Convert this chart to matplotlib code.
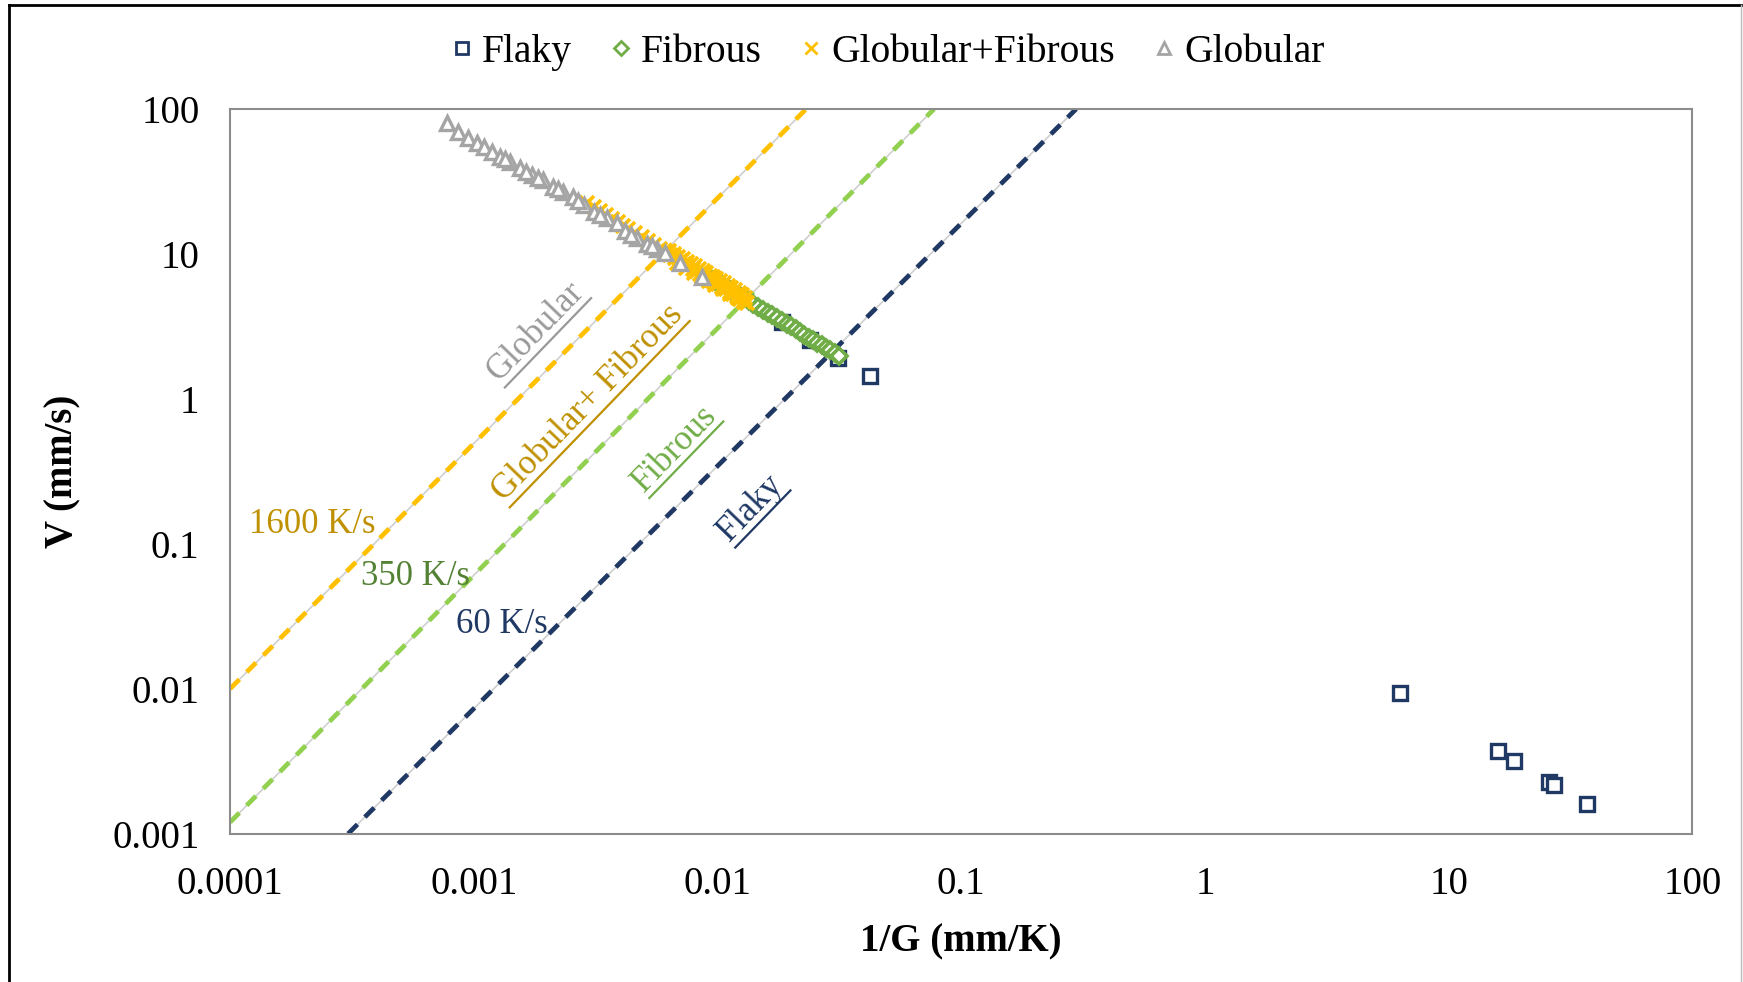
import matplotlib
matplotlib.use("Agg")
import matplotlib.pyplot as plt
from matplotlib.lines import Line2D
from matplotlib.transforms import IdentityTransform
import numpy as np

plt.rcParams["font.family"] = ["Liberation Serif", "DejaVu Serif"]

# ── 데이터 ──
x_ticks = [0.0001, 0.001, 0.01, 0.1, 1, 10, 100]
x_tick_labels = ["0.0001", "0.001", "0.01", "0.1", "1", "10", "100"]
y_ticks = [0.001, 0.01, 0.1, 1, 10, 100]
y_tick_labels = ["0.001", "0.01", "0.1", "1", "10", "100"]

flaky_x = [0.0183, 0.0240, 0.0313, 0.0423, 6.32, 16.0, 18.6, 25.7, 27.1, 36.9]
flaky_y = [3.37, 2.55, 1.91, 1.44, 0.0094, 0.0037, 0.00316, 0.00226, 0.00218, 0.00161]

fibrous_x = [0.0092, 0.0098, 0.0104, 0.0110, 0.0116, 0.0122, 0.0128, 0.0134,
             0.0140, 0.0147, 0.0154, 0.0161, 0.0168, 0.0176, 0.0184, 0.0192,
             0.0200, 0.0209, 0.0218, 0.0227, 0.0237, 0.0247, 0.0257, 0.0268,
             0.0279, 0.0290, 0.0302, 0.0316]
fibrous_y = [6.96, 6.53, 6.15, 5.80, 5.50, 5.22, 4.97, 4.75,
             4.54, 4.32, 4.12, 3.94, 3.77, 3.59, 3.44, 3.29,
             3.16, 3.02, 2.89, 2.77, 2.65, 2.54, 2.44, 2.34,
             2.25, 2.16, 2.07, 1.98]

glob_fib_x = [0.0029, 0.0031, 0.0033, 0.0035, 0.0037, 0.0039, 0.0041, 0.0043,
              0.0046, 0.0049, 0.0052, 0.0055, 0.0058, 0.0061, 0.0064, 0.0067,
              0.0070, 0.0073, 0.0076, 0.0079, 0.0082, 0.0085, 0.0088, 0.0091,
              0.0094, 0.0097, 0.0100, 0.0104, 0.0108, 0.0112, 0.0116, 0.0120,
              0.0124, 0.0128, 0.0132, 0.0063, 0.0066, 0.0069, 0.0072, 0.0075,
              0.0078, 0.0081, 0.0084, 0.0087, 0.0090, 0.0093, 0.0096, 0.0099,
              0.0102, 0.0106, 0.0110, 0.0114, 0.0118, 0.0122, 0.0126, 0.0130,
              0.0068, 0.0074, 0.0080, 0.0086, 0.0092, 0.0098, 0.0105, 0.0113,
              0.0121, 0.0129]
glob_fib_y = [22.5, 21.0, 19.7, 18.5, 17.4, 16.5, 15.7, 14.9,
              13.9, 13.0, 12.2, 11.5, 10.9, 10.3, 9.83, 9.37,
              8.95, 8.57, 8.21, 7.89, 7.59, 7.31, 7.05, 6.80,
              6.57, 6.36, 6.16, 5.92, 5.69, 5.47, 5.28, 5.09,
              4.92, 4.76, 4.61, 10.5, 10.0, 9.6, 9.2, 8.8,
              8.5, 8.2, 7.9, 7.6, 7.4, 7.1, 6.9, 6.7,
              6.5, 6.3, 6.0, 5.8, 5.6, 5.4, 5.2, 5.0,
              8.6, 8.0, 7.4, 6.9, 6.5, 6.1, 5.7, 5.3,
              4.98, 4.67]

globular_x = [0.000774, 0.000865, 0.000951, 0.00103, 0.00110, 0.00119, 0.00128,
              0.00141, 0.00155, 0.00173, 0.00193, 0.00212, 0.00233, 0.00256,
              0.00282, 0.00310, 0.00352, 0.00386, 0.00418, 0.00467, 0.00513,
              0.00564, 0.00610, 0.00703, 0.00863, 0.00134, 0.00164, 0.00183,
              0.00222, 0.00268, 0.00330, 0.00440, 0.00540]
globular_y = [79.6, 69.8, 62.8, 58.0, 55.0, 50.8, 46.9,
              43.3, 39.0, 35.1, 32.4, 29.1, 26.9, 24.8,
              21.8, 19.6, 17.6, 16.3, 14.3, 12.8, 11.8,
              10.9, 10.1, 8.63, 6.97, 45.0, 37.0, 33.6,
              28.0, 23.2, 18.6, 13.5, 11.3]

# 냉각속도 기준선 (양 끝점)
rate_labels = ["1600 K/s", "350 K/s", "60 K/s"]
rate_line_x = [[0.0001, 0.0231], [0.0001, 0.0773], [0.000305, 0.296]]
rate_line_y = [[0.0100, 100], [0.0012, 100], [0.001, 100]]

NAVY = "#1F3864"
GREEN = "#70AD47"
YELLOW = "#FFC000"
GREY = "#A5A5A5"

fig = plt.figure(figsize=(17.43, 9.82), dpi=100)
ax = fig.add_axes([0.132, 0.151, 0.839, 0.738])
ax.set_xscale("log")
ax.set_yscale("log")
ax.set_xlim(1e-4, 100)
ax.set_ylim(1e-3, 100)

# ── 기준선: 가는 회색 실선 위에 색 점선 ──
line_colors = [YELLOW, "#92D050", NAVY]
for lx, ly, c in zip(rate_line_x, rate_line_y, line_colors):
    ax.plot(lx, ly, color="#CFCFCF", lw=1.2, zorder=2)
    ax.plot(lx, ly, color=c, lw=3.4, ls=(0, (2.8, 2.2)), zorder=2.1)

# ── 산점도 ──
ax.plot(flaky_x, flaky_y, ls="none", marker="s", ms=10.5, mfc="white",
        mec=NAVY, mew=2.4, zorder=3)
ax.plot(fibrous_x, fibrous_y, ls="none", marker="D", ms=8.5, mfc="white",
        mec=GREEN, mew=2.6, zorder=4)
ax.plot(glob_fib_x, glob_fib_y, ls="none", marker="x", ms=10, mec=YELLOW,
        mew=2.6, zorder=5)
ax.plot(globular_x, globular_y, ls="none", marker="^", ms=10, mfc="white",
        mec=GREY, mew=2.4, zorder=6)

# 축 스타일
ax.minorticks_off()
ax.set_xticks(x_ticks)
ax.set_xticklabels(x_tick_labels)
ax.set_yticks(y_ticks)
ax.set_yticklabels(y_tick_labels)
ax.tick_params(axis="both", length=0, labelsize=28)
ax.tick_params(axis="x", pad=23)
ax.tick_params(axis="y", pad=22)
for sp in ax.spines.values():
    sp.set_color("#8C8C8C")
    sp.set_linewidth(1.5)

ax.set_xlabel("1/G (mm/K)", fontsize=28, fontweight="bold", labelpad=15)
ax.set_ylabel("V (mm/s)", fontsize=28, fontweight="bold", labelpad=22)

# 냉각속도 라벨
rate_text_pos = [(0.000120, 0.119), (0.000343, 0.0524), (0.000843, 0.0242)]
rate_text_colors = ["#BF9000", "#548235", NAVY]
for s, (tx, ty), c in zip(rate_labels, rate_text_pos, rate_text_colors):
    ax.text(tx, ty, s, color=c, fontsize=25, ha="left", va="baseline", zorder=7)

# 영역 라벨 (밑줄 포함)
fig.canvas.draw()
renderer = fig.canvas.get_renderer()


def underlined(x, y, s, color, angle=46, size=25):
    t = ax.text(x, y, s, color=color, fontsize=size, rotation=angle,
                rotation_mode="anchor", ha="left", va="baseline", zorder=7)
    w, h, d = renderer.get_text_width_height_descent(s, t.get_fontproperties(), ismath=False)
    x0, y0 = ax.transData.transform((x, y))
    a = np.radians(angle)
    off = 8
    sx, sy = x0 + off * np.sin(a), y0 - off * np.cos(a)
    ex, ey = sx + w * np.cos(a), sy + w * np.sin(a)
    fig.add_artist(Line2D([sx, ex], [sy, ey], transform=IdentityTransform(),
                          color=color, lw=1.6))


underlined(0.00127, 1.31, "Globular", "#999999")
underlined(0.00133, 0.195, "Globular+ Fibrous", "#BF9000")
underlined(0.00497, 0.226, "Fibrous", GREEN)
underlined(0.0112, 0.103, "Flaky", NAVY)

# 범례
handles = [
    Line2D([], [], ls="none", marker="s", ms=9, mfc="white", mec=NAVY, mew=2),
    Line2D([], [], ls="none", marker="D", ms=7, mfc="white", mec=GREEN, mew=2),
    Line2D([], [], ls="none", marker="x", ms=8, mec=YELLOW, mew=2),
    Line2D([], [], ls="none", marker="^", ms=8, mfc="white", mec=GREY, mew=2),
]
fig.legend(handles, ["Flaky", "Fibrous", "Globular+Fibrous", "Globular"],
           loc="center", bbox_to_anchor=(0.509, 0.947), ncol=4, frameon=False,
           fontsize=28.5, handlelength=0.6, handletextpad=0.2, columnspacing=0.95)

# 그림 테두리
fig.add_artist(Line2D([0.005, 0.005], [0, 0.995], transform=fig.transFigure, color="black", lw=2))
fig.add_artist(Line2D([0.005, 0.999], [0.995, 0.995], transform=fig.transFigure, color="black", lw=2))
fig.add_artist(Line2D([0.999, 0.999], [0, 0.995], transform=fig.transFigure, color="#BBBBBB", lw=1))

fig.savefig("out.png", dpi=100)
